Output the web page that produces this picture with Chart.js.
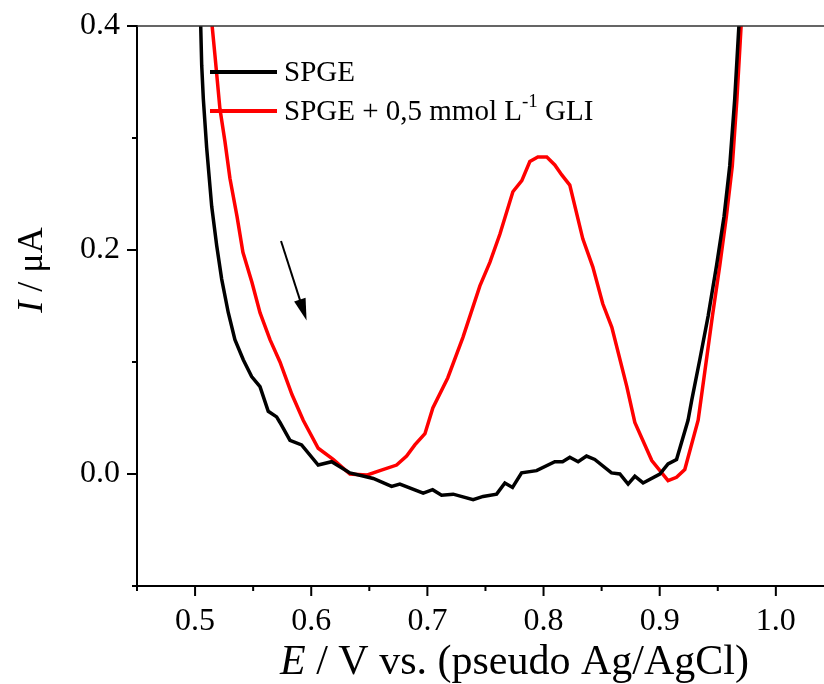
<!DOCTYPE html>
<html lang="pt">
<head>
<meta charset="UTF-8" />
<title>SPGE</title>
<script src="https://cdn.jsdelivr.net/npm/chart.js"></script>
<style>
body { margin: 0; overflow: hidden; background: white; }
</style>
</head>
<body>
<canvas id="myChart" width="920" height="684"></canvas>
<script>
const spgeE = [0.5041, 0.5048, 0.5057, 0.5071, 0.5100, 0.5143, 0.5186, 0.5229, 0.5286, 0.5343, 0.5415, 0.5487, 0.5559, 0.5630, 0.5702, 0.5731, 0.5817, 0.5917, 0.6060, 0.6176, 0.6333, 0.6534, 0.6692, 0.6763, 0.6964, 0.7045, 0.7122, 0.7222, 0.7394, 0.7480, 0.7596, 0.7667, 0.7733, 0.7811, 0.7940, 0.8097, 0.8164, 0.8226, 0.8298, 0.8370, 0.8441, 0.8585, 0.8657, 0.8728, 0.8786, 0.8857, 0.9001, 0.9072, 0.9145, 0.9244, 0.9276, 0.9345, 0.9417, 0.9489, 0.9554, 0.9603, 0.9646, 0.9683, 0.9698];
const spgeI = [0.43, 0.402, 0.365, 0.335, 0.291, 0.239, 0.204, 0.174, 0.144, 0.120, 0.102, 0.087, 0.078, 0.056, 0.051, 0.046, 0.030, 0.026, 0.008, 0.011, 0.001, -0.004, -0.011, -0.009, -0.017, -0.014, -0.019, -0.018, -0.023, -0.020, -0.018, -0.008, -0.012, 0.001, 0.003, 0.011, 0.011, 0.015, 0.011, 0.016, 0.013, 0.001, 0.000, -0.009, -0.002, -0.008, 0.000, 0.009, 0.013, 0.048, 0.066, 0.102, 0.141, 0.186, 0.230, 0.275, 0.335, 0.402, 0.43];
const gliE = [0.5120, 0.5145, 0.5171, 0.5214, 0.5257, 0.5300, 0.5361, 0.5412, 0.5490, 0.5559, 0.5645, 0.5731, 0.5834, 0.5931, 0.6060, 0.6189, 0.6333, 0.6477, 0.6591, 0.6735, 0.6821, 0.6892, 0.6979, 0.7047, 0.7176, 0.7306, 0.7452, 0.7538, 0.7624, 0.7736, 0.7813, 0.7882, 0.7951, 0.8028, 0.8097, 0.8157, 0.8226, 0.8338, 0.8424, 0.8510, 0.8588, 0.8717, 0.8786, 0.8932, 0.9072, 0.9145, 0.9216, 0.9331, 0.9388, 0.9454, 0.9517, 0.9574, 0.9625, 0.9665, 0.9702, 0.9717];
const gliI = [0.43, 0.402, 0.374, 0.326, 0.297, 0.264, 0.230, 0.198, 0.171, 0.144, 0.120, 0.100, 0.071, 0.048, 0.023, 0.013, 0.000, -0.001, 0.003, 0.008, 0.016, 0.026, 0.036, 0.059, 0.086, 0.122, 0.168, 0.189, 0.214, 0.252, 0.262, 0.279, 0.283, 0.283, 0.276, 0.267, 0.258, 0.210, 0.185, 0.152, 0.131, 0.078, 0.046, 0.012, -0.006, -0.003, 0.004, 0.048, 0.091, 0.141, 0.186, 0.230, 0.275, 0.335, 0.402, 0.43];

const xTicks = [0.5, 0.6, 0.7, 0.8, 0.9, 1.0, 1.1];
const xMinor = [0.45, 0.55, 0.65, 0.75, 0.85, 0.95, 1.05];
const yTicks = [0.0, 0.2, 0.4];
const yMinor = [-0.1, 0.1, 0.3];
const arrowFrom = [0.574, 0.208];
const arrowTo = [0.596, 0.137];

const serif = "'Liberation Serif', 'Times New Roman', serif";

function toPoints(xs, ys) {
  return xs.map((x, i) => ({ x: x, y: ys[i] }));
}

function noPad(s) {
  s.paddingTop = 0;
  s.paddingBottom = 0;
  s.paddingLeft = 0;
  s.paddingRight = 0;
}

function mixedText(ctx, parts, x, y, align) {
  // parts: [text, dy, font]
  let w = 0;
  parts.forEach(p => { ctx.font = p[2]; w += ctx.measureText(p[0]).width; });
  let tx = align === "center" ? x - w / 2 : x;
  parts.forEach(p => {
    ctx.font = p[2];
    ctx.fillText(p[0], tx, y + (p[1] || 0));
    tx += ctx.measureText(p[0]).width;
  });
}

const extras = {
  id: "extras",
  afterDraw(chart) {
    const ctx = chart.ctx;
    const sx = chart.scales.x;
    const sy = chart.scales.y;
    const a = chart.chartArea;
    ctx.save();

    ctx.strokeStyle = "#333";
    ctx.lineWidth = 1.5;
    ctx.beginPath();
    ctx.moveTo(a.left, a.top);
    ctx.lineTo(a.right, a.top);
    ctx.lineTo(a.right, a.bottom);
    ctx.stroke();

    ctx.strokeStyle = "#000";
    ctx.lineWidth = 2;
    ctx.beginPath();
    xTicks.forEach(v => { const p = sx.getPixelForValue(v); ctx.moveTo(p, a.bottom); ctx.lineTo(p, a.bottom + 10); });
    xMinor.forEach(v => { const p = sx.getPixelForValue(v); ctx.moveTo(p, a.bottom); ctx.lineTo(p, a.bottom + 5); });
    yTicks.forEach(v => { const p = sy.getPixelForValue(v); ctx.moveTo(a.left, p); ctx.lineTo(a.left - 10, p); });
    yMinor.forEach(v => { const p = sy.getPixelForValue(v); ctx.moveTo(a.left, p); ctx.lineTo(a.left - 5, p); });
    ctx.stroke();

    // arrow
    const x1 = sx.getPixelForValue(arrowFrom[0]), y1 = sy.getPixelForValue(arrowFrom[1]);
    const x2 = sx.getPixelForValue(arrowTo[0]), y2 = sy.getPixelForValue(arrowTo[1]);
    const ang = Math.atan2(y2 - y1, x2 - x1);
    const c = Math.cos(ang), s = Math.sin(ang);
    ctx.beginPath();
    ctx.moveTo(x1, y1);
    ctx.lineTo(x2 - 16 * c, y2 - 16 * s);
    ctx.stroke();
    ctx.fillStyle = "#000";
    ctx.beginPath();
    ctx.moveTo(x2, y2);
    ctx.lineTo(x2 - 22 * c + 6 * s, y2 - 22 * s - 6 * c);
    ctx.lineTo(x2 - 22 * c - 6 * s, y2 - 22 * s + 6 * c);
    ctx.closePath();
    ctx.fill();

    // legend
    const lf = "29px " + serif;
    ctx.lineWidth = 4;
    ctx.textBaseline = "middle";
    ctx.textAlign = "left";
    ctx.strokeStyle = "#000";
    ctx.beginPath(); ctx.moveTo(210, 72); ctx.lineTo(277, 72); ctx.stroke();
    mixedText(ctx, [["SPGE", 1, lf]], 284, 72, "left");
    ctx.strokeStyle = "#ff0000";
    ctx.beginPath(); ctx.moveTo(210, 111); ctx.lineTo(277, 111); ctx.stroke();
    mixedText(ctx, [["SPGE + 0,5 mmol L", 1, lf], ["-1", -9, "19px " + serif], [" GLI", 1, lf]], 284, 111, "left");

    // axis titles
    ctx.textBaseline = "alphabetic";
    const xf = "42px " + serif;
    mixedText(ctx, [["E", 0, "italic " + xf], [" / V vs. (pseudo Ag/AgCl)", 0, xf]], (a.left + a.right) / 2, 674, "center");

    ctx.translate(42, 270);
    ctx.rotate(-Math.PI / 2);
    const yf = "36px " + serif;
    mixedText(ctx, [["I", 0, "italic " + yf], [" / \u03bcA", 0, yf]], 0, 0, "center");
    ctx.restore();
  }
};

const config = {
  type: "line",
  data: {
    datasets: [
      { label: "SPGE", data: toPoints(spgeE, spgeI), borderColor: "#000000", borderWidth: 3.5, pointRadius: 0, tension: 0, clip: 0 },
      { label: "SPGE + 0,5 mmol L-1 GLI", data: toPoints(gliE, gliI), borderColor: "#ff0000", borderWidth: 3.5, pointRadius: 0, tension: 0, clip: 0 }
    ]
  },
  options: {
    responsive: false,
    animation: false,
    devicePixelRatio: 1,
    layout: { padding: { top: 26, right: 28, left: 0, bottom: 0 } },
    plugins: { legend: { display: false }, tooltip: { enabled: false } },
    scales: {
      x: {
        type: "linear",
        min: 0.45,
        max: 1.1,
        afterBuildTicks: (s) => { s.ticks = xTicks.map(v => ({ value: v })); },
        afterFit: (s) => { s.height = 98; noPad(s); },
        grid: { display: true, drawOnChartArea: false, drawTicks: false },
        border: { color: "#000", width: 2 },
        ticks: { color: "#000", font: { family: serif, size: 32 }, padding: 16, maxRotation: 0, autoSkip: false, callback: (v) => v.toFixed(1) }
      },
      y: {
        type: "linear",
        min: -0.1,
        max: 0.4,
        afterBuildTicks: (s) => { s.ticks = yTicks.map(v => ({ value: v })); },
        afterFit: (s) => { s.width = 137; noPad(s); },
        grid: { display: true, drawOnChartArea: false, drawTicks: false },
        border: { color: "#000", width: 2 },
        ticks: { color: "#000", font: { family: serif, size: 32 }, padding: 17, callback: (v) => v.toFixed(1) }
      }
    }
  },
  plugins: [extras]
};

new Chart(document.getElementById("myChart"), config);
</script>
</body>
</html>
